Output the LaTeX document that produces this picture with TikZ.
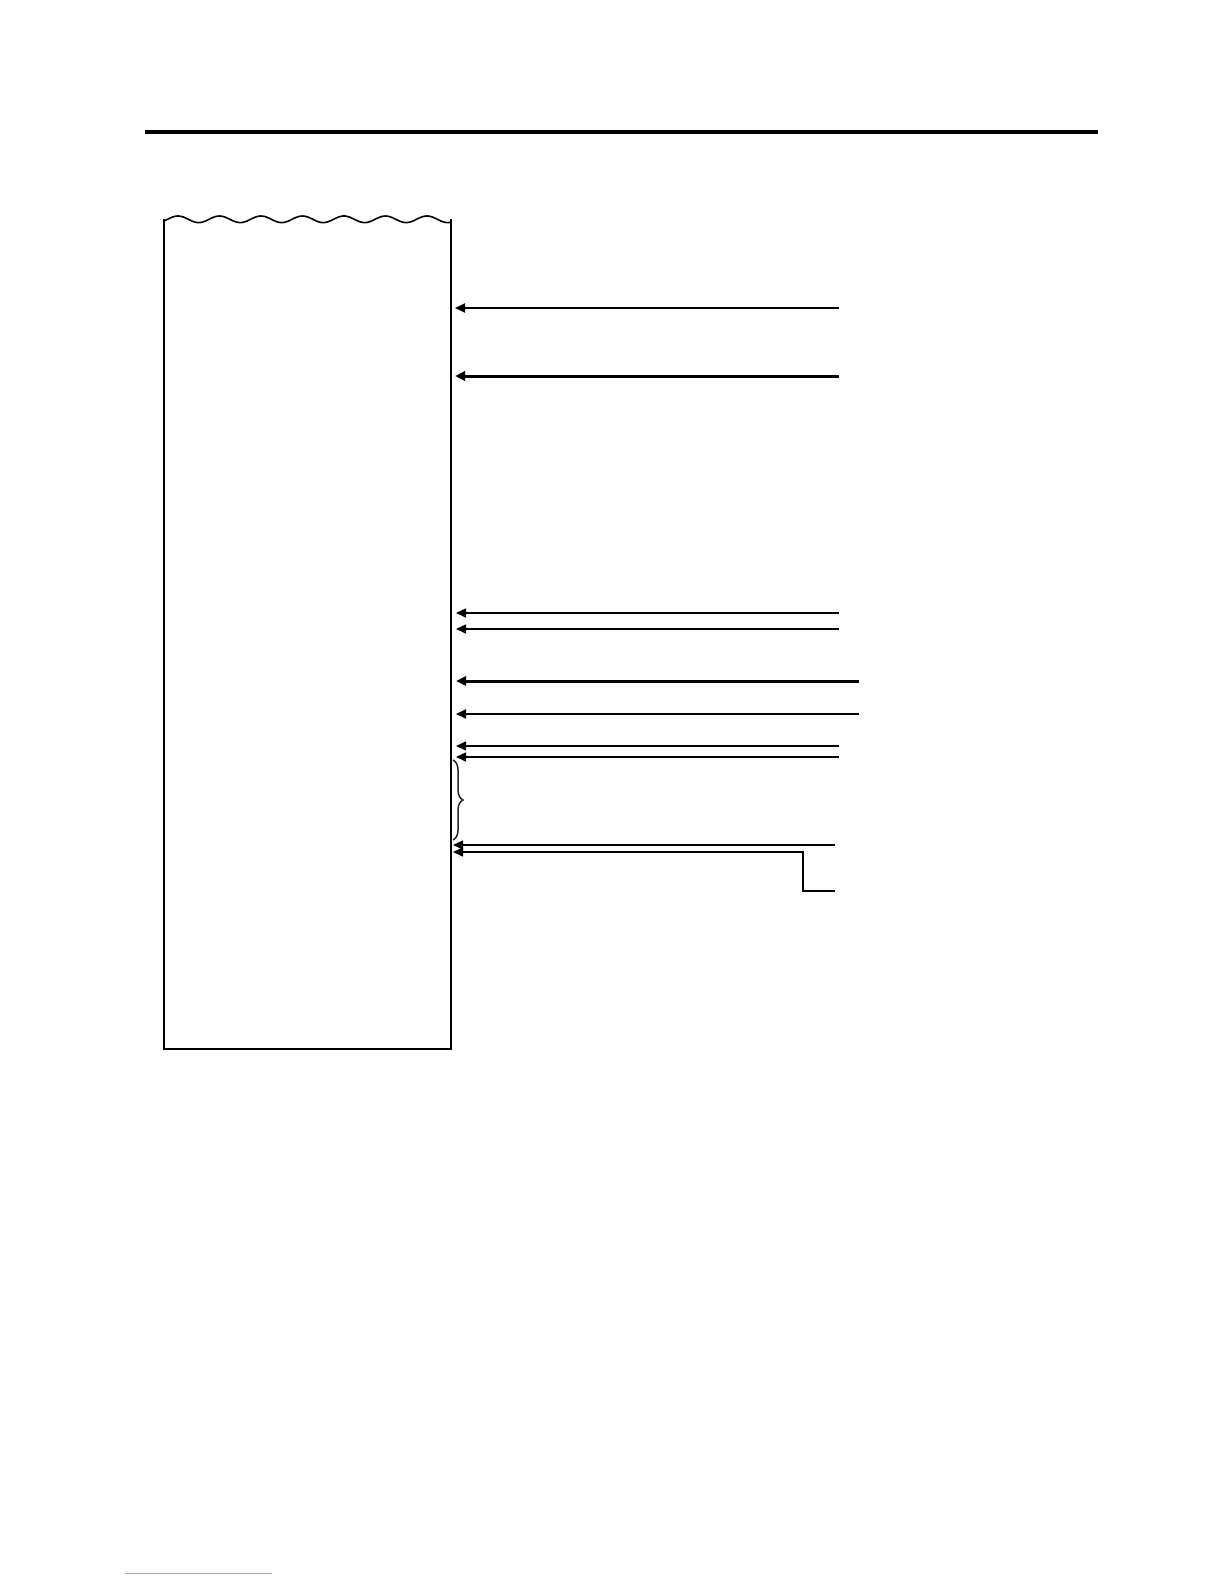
\documentclass[tikz,border=0pt]{standalone}
\usetikzlibrary{arrows.meta,decorations.pathreplacing}
\begin{document}
\begin{tikzpicture}[x=0.5pt,y=-0.5pt,
  feed/.style={-{Triangle[length=5pt,width=4.5pt]}, line width=0.7pt},
  boldfeed/.style={feed, line width=1.5pt}]
\newcommand\paperl{164}
\newcommand\paperr{451}
\newcommand\tipx{455}
\useasboundingbox (0,0) rectangle (1224,1584);

% heading rule
\draw [line width=2.3pt] (145,132) -- (1098,132);

% paper roll, torn at the top
\draw [line width=0.9pt] (\paperl,219) -- (\paperl,1049) -- (\paperr,1049) -- (\paperr,219);
\draw [line width=0.8pt] plot [domain=0:287, samples=150, smooth] ({\paperl+\x}, {219.3-3.3*sin(\x/41.5*360-31)});

% feed lines
\coordinate (srca) at (839,308); \coordinate (dsta) at (\tipx,308);
\draw [feed, line width=1pt] (srca) -- (dsta);
\coordinate (srcb) at (839,376); \coordinate (dstb) at (\tipx,376);
\draw [boldfeed] (srcb) -- (dstb);
\foreach \y/\n in {613/c, 629/d} {
    \coordinate (src\n) at (839,\y); \coordinate (dst\n) at (456,\y);
    \draw [feed] (src\n) -- (dst\n);
}
\coordinate (srce) at (859,681); \coordinate (dste) at (456,681);
\draw [boldfeed] (srce) -- (dste);
\coordinate (srcf) at (859,714); \coordinate (dstf) at (456,714);
\draw [feed, line width=0.9pt] (srcf) -- (dstf);
\foreach \y/\n in {746/g, 757/h} {
    \coordinate (src\n) at (839,\y); \coordinate (dst\n) at (456,\y);
    \draw [feed] (src\n) -- (dst\n);
}

% brace
\coordinate (bracetop) at (453,760);
\coordinate (bracebot) at (453,840);
\draw [decorate, decoration={brace, amplitude=5pt}, line width=0.75pt, color=black!85] (bracetop) -- (bracebot);

\coordinate (srci) at (835,845); \coordinate (dsti) at (453,845);
\draw [feed] (srci) -- (dsti);
\coordinate (srcj) at (835,891); \coordinate (dstj) at (453,852);
\draw [feed] (srcj) -- (803,891) |- (dstj);

% footnote rule
\draw [line width=0.5pt, color=blue!35] (125,1573) -- (272,1573);
\end{tikzpicture}
\end{document}
